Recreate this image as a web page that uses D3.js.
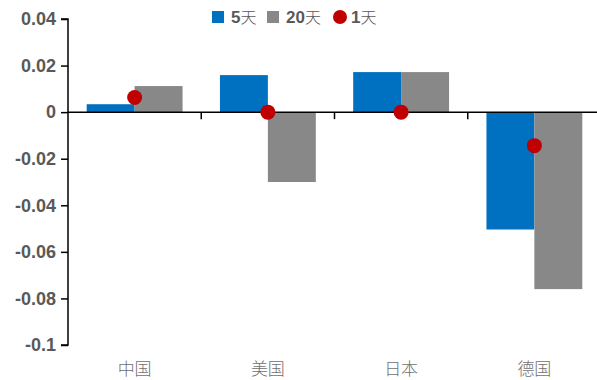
<!DOCTYPE html>
<html><head><meta charset="utf-8">
<script src="https://cdn.jsdelivr.net/npm/d3@7"></script>
<style>body{margin:0;background:#fff}</style>
</head><body>
<svg id="c" width="597" height="380"></svg>
<script>
const categories = ["中国","美国","日本","德国"];
const series5 = [0.0034, 0.0159, 0.0172, -0.0504];
const series20 = [0.0112, -0.0300, 0.0172, -0.0760];
const series1 = [0.0063, 0.0000, 0.0000, -0.0144];
const yTicks = [0.04, 0.02, 0, -0.02, -0.04, -0.06, -0.08, -0.1];
const seriesNames = [["5","天"],["20","天"],["1","天"]];

const svg = d3.select("#c");
const x0 = 68, x1 = 601;
const y = d3.scaleLinear().domain([-0.1, 0.04]).range([345, 19]);
const x = d3.scaleBand().domain(categories).range([x0, x1]).paddingInner(0).paddingOuter(0);
const xs = d3.scaleBand().domain(["a","b"]).range([0, x.bandwidth()]).paddingInner(0).paddingOuter(0.39);

const blue = "#0070C0", gray = "#888888", red = "#C00000", txt = "#595959";

// bars
categories.forEach((c,i)=>{
  [[series5[i], "a", blue],[series20[i], "b", gray]].forEach(([v,k,col])=>{
    svg.append("rect")
      .attr("x", x(c)+xs(k)).attr("width", xs.bandwidth())
      .attr("y", y(Math.max(0,v))).attr("height", Math.abs(y(v)-y(0)))
      .attr("fill", col);
  });
});

// y axis
const yAxis = d3.axisLeft(y).tickValues(yTicks).tickSize(7).tickPadding(5)
  .tickFormat(d => d===0 ? "0" : String(+d.toFixed(2)));
const gy = svg.append("g").attr("transform", `translate(${x0},0)`).call(yAxis);
gy.select(".domain").attr("stroke","#000").attr("stroke-width",1.5).attr("d", `M-7,${y(0.04)}H0V${y(-0.1)}H-7`);
gy.selectAll(".tick line").attr("stroke","#000").attr("stroke-width",1.5);
gy.selectAll(".tick text").attr("fill", txt).style("font-family","Arial, 'Liberation Sans', sans-serif")
  .style("font-size","18px").style("font-weight","bold");

// x axis at zero
const gx = svg.append("g").attr("transform", `translate(0,${y(0)})`);
gx.append("line").attr("x1", x0).attr("x2", 597).attr("stroke","#000").attr("stroke-width",1.5);
categories.slice(1).forEach(c=>{
  gx.append("line").attr("x1", x(c)).attr("x2", x(c)).attr("y1",0).attr("y2",7).attr("stroke","#000").attr("stroke-width",1.5);
});

// category labels
svg.append("g").selectAll("text").data(categories).join("text")
  .attr("x", d => x(d)+x.bandwidth()/2).attr("y", 375)
  .attr("text-anchor","middle").attr("fill","#707070")
  .style("font-family","'Noto Sans CJK SC', sans-serif").style("font-size","17px").style("font-weight","300")
  .text(d=>d);

// dots
svg.append("g").selectAll("circle").data(series1).join("circle")
  .attr("cx", (d,i)=> x(categories[i]) + x.bandwidth()/2)
  .attr("cy", d => y(d)).attr("r", 7.5).attr("fill", red);

// legend
const lg = svg.append("g").style("font-family","Arial, 'Liberation Sans', sans-serif").style("font-size","17px");
function ltext(xp, parts){
  const t = lg.append("text").attr("x",xp).attr("y",23).attr("fill",txt);
  t.append("tspan").style("font-weight","bold").text(parts[0]);
  t.append("tspan").style("font-family","'Noto Sans CJK SC', sans-serif").style("font-weight","300").style("font-size","16px").text(parts[1]);
}
lg.append("rect").attr("x",212).attr("y",11).attr("width",12).attr("height",12).attr("fill",blue);
ltext(231, seriesNames[0]);
lg.append("rect").attr("x",267).attr("y",11).attr("width",12).attr("height",12).attr("fill",gray);
ltext(286, seriesNames[1]);
lg.append("circle").attr("cx",340).attr("cy",17).attr("r",7).attr("fill",red);
ltext(351, seriesNames[2]);
</script>
</body></html>
